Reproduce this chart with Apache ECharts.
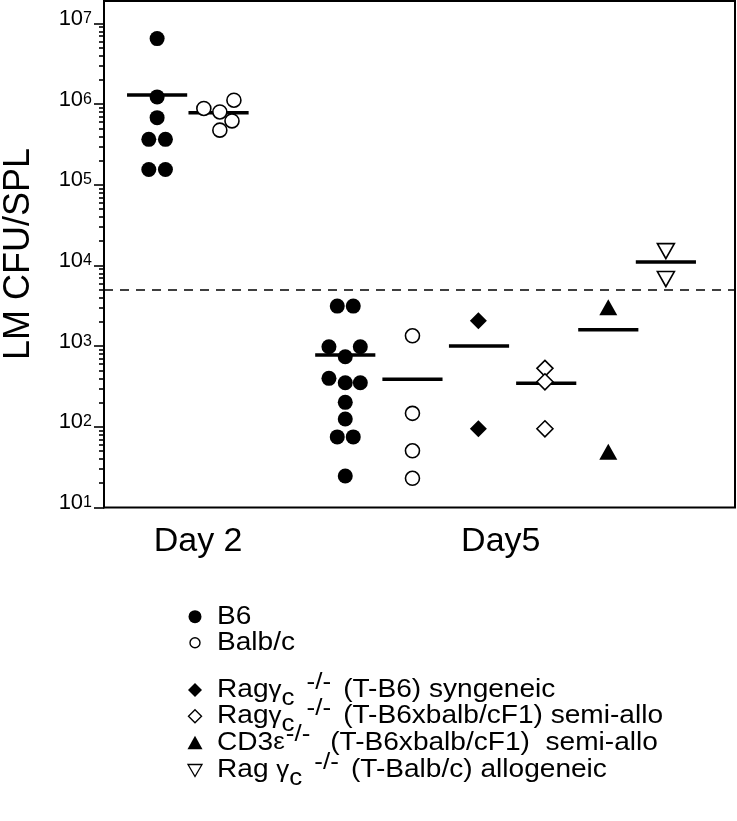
<!DOCTYPE html>
<html><head><meta charset="utf-8">
<script src="https://cdn.jsdelivr.net/npm/echarts@6/dist/echarts.min.js"></script>
<style>html,body{margin:0;padding:0;background:#fff}#c{width:737px;height:821px}</style>
</head><body><div id="c"></div>
<script>
const FONT = '"Liberation Sans", Arial, Helvetica, sans-serif';

// ---- axis ticks / labels ----
const yMajorTicks = [10, 100, 1000, 10000, 100000, 1000000, 10000000];
const yMajorExponents = ['1', '2', '3', '4', '5', '6', '7'];
const yMinorTicks = [];
for (let e = 1; e <= 6; e++) for (let m = 2; m <= 9; m++) yMinorTicks.push(m * Math.pow(10, e));
const dayLabels = ['Day 2', 'Day5'];
const dayLabelPos = [1.47, 6.20];

// ---- series names / legend text ----
const seriesNames = ['B6', 'Balb/c', 'Ragγc-/- (T-B6) syngeneic', 'Ragγc-/- (T-B6xbalb/cF1) semi-allo',
  'CD3ε-/- (T-B6xbalb/cF1) semi-allo', 'Rag γc-/- (T-Balb/c) allogeneic'];
const legendRich = ['{n|B6}', '{n|Balb/c}',
  '{n|Rag}{g|γ}{sub|c}{n| }{sup|-/-}{n| (T-B6) syngeneic}',
  '{n|Rag}{g|γ}{sub|c}{n| }{sup|-/-}{n| (T-B6xbalb/cF1) semi-allo}',
  '{n|CD3}{g|ε}{sup2|-/-}{n|  (T-B6xbalb/cF1)  semi-allo}',
  '{n|Rag }{g|γ}{sub|c}{n| }{sup|-/-}{n| (T-Balb/c) allogeneic}'];

// ---- data (LM CFU per spleen) ----
const day2B6 = [6.5e6, 1.23e6, 6.8e5, 3.66e5, 3.66e5, 1.55e5, 1.55e5];
const day2Balb = [8.85e5, 8.0e5, 1.12e6, 6.2e5, 4.76e5];
const day5B6 = [3140, 3140, 984, 984, 740, 399, 352, 352, 201, 125, 75, 75, 24.6];
const day5Balb = [1345, 147, 50.5, 23];
const ragSyn = [2065, 94.6];
const ragSemi = [531, 362, 94.6];
const cd3Semi = [3027, 49];
const ragAllo = [15070, 6780];
const groupMeans = [1.30e6, 7.8e5, 776, 388, 1003, 346, 1596, 11020];
const threshold = 5000;

// ---- layout: group x positions and point offsets (dot-plot jitter) ----
const groupPos = [0.83, 1.81, 3.77, 4.82, 5.85, 6.89, 7.88, 8.78];
const meanPos = [0.83, 1.79, 3.77, 4.82, 5.86, 6.91, 7.88, 8.78];
const meanHalfWidth = 0.47;
const day2B6Off = [0, 0, 0, -0.13, 0.13, -0.13, 0.13];
const day2BalbOff = [-0.25, 0, 0.22, 0.19, 0];
const day5B6Off = [-0.125, 0.125, -0.255, 0.235, 0, -0.255, 0, 0.235, 0, 0, -0.125, 0.125, 0];
const zeroOff = [0, 0, 0, 0];

// legend layout
const legendRowY = [616.7, 642.7, 690, 716.3, 742.7, 770];
const legendSymX = 195;
const legendTextX = 217;

function pts(vals, gi, off) { return vals.map((v, i) => [groupPos[gi] + (off[i] || 0), v]); }

const filled = { color: '#000', borderColor: '#000', borderWidth: 0, opacity: 1 };
const open = { color: '#fff', borderColor: '#000', borderWidth: 1.6, opacity: 1 };

const chart = echarts.init(document.getElementById('c'), null, { renderer: 'canvas' });

const baseY = { type: 'log', logBase: 10, min: 10, max: 1.9e7, gridIndex: 0, position: 'left', splitLine: { show: false } };

// legend graphics
const legendSymbols = [
  (x, y) => ({ type: 'circle', shape: { cx: x, cy: y, r: 6.5 }, style: { fill: '#000' } }),
  (x, y) => ({ type: 'circle', shape: { cx: x, cy: y, r: 5 }, style: { fill: '#fff', stroke: '#000', lineWidth: 1.4 } }),
  (x, y) => ({ type: 'polygon', shape: { points: [[x, y - 7], [x + 7, y], [x, y + 7], [x - 7, y]] }, style: { fill: '#000' } }),
  (x, y) => ({ type: 'polygon', shape: { points: [[x, y - 6.5], [x + 6.5, y], [x, y + 6.5], [x - 6.5, y]] }, style: { fill: '#fff', stroke: '#000', lineWidth: 1.4 } }),
  (x, y) => ({ type: 'polygon', shape: { points: [[x, y - 7], [x + 7.5, y + 6.5], [x - 7.5, y + 6.5]] }, style: { fill: '#000' } }),
  (x, y) => ({ type: 'polygon', shape: { points: [[x - 7, y - 5.5], [x + 7, y - 5.5], [x, y + 6.5]] }, style: { fill: '#fff', stroke: '#000', lineWidth: 1.3 } })
];
const legendGraphics = [];
seriesNames.forEach((nm, i) => {
  legendGraphics.push(legendSymbols[i](legendSymX, legendRowY[i]));
  legendGraphics.push({
    type: 'text', x: legendTextX, y: legendRowY[i], scaleX: 1.08,
    style: {
      text: legendRich[i], align: 'left', verticalAlign: 'middle', fill: '#000',
      fontFamily: FONT, fontSize: 26,
      rich: {
        n: { fontFamily: FONT, fontSize: 26, lineHeight: 26, verticalAlign: 'middle', fill: '#000' },
        g: { fontFamily: FONT, fontSize: 24, lineHeight: 26, verticalAlign: 'middle', fill: '#000' },
        sub: { fontFamily: FONT, fontSize: 24, lineHeight: 10, padding: [16, 0, 0, 0], verticalAlign: 'middle', fill: '#000' },
        sup: { fontFamily: FONT, fontSize: 24, lineHeight: 10, padding: [0, 4, 16, 4], verticalAlign: 'middle', fill: '#000' },
        sup2: { fontFamily: FONT, fontSize: 24, lineHeight: 10, padding: [0, 4, 16, 1], verticalAlign: 'middle', fill: '#000' }
      }
    }
  });
});

chart.setOption({
  animation: false,
  backgroundColor: '#fff',
  textStyle: { fontFamily: FONT, color: '#000' },
  grid: { left: 104, top: 1, width: 631, height: 506.5, show: true, borderColor: '#000', borderWidth: 2, backgroundColor: 'transparent', outerBoundsMode: 'none' },
  xAxis: {
    type: 'value', min: 0, max: 9.86,
    axisLine: { show: false }, axisTick: { show: false }, splitLine: { show: false },
    axisLabel: {
      customValues: dayLabelPos, margin: 17,
      fontFamily: FONT, fontSize: 34, color: '#000',
      formatter: (v) => { let k = 0; dayLabelPos.forEach((p, i) => { if (Math.abs(p - v) < Math.abs(dayLabelPos[k] - v)) k = i; }); return dayLabels[k]; }
    }
  },
  yAxis: [
    Object.assign({}, baseY, {
      axisLine: { show: true, lineStyle: { color: '#000', width: 2 } },
      axisTick: { show: true, customValues: yMajorTicks, length: 10, lineStyle: { color: '#000', width: 1.6 } },
      axisLabel: {
        customValues: yMajorTicks, margin: 12, color: '#000', fontFamily: FONT, fontSize: 22,
        formatter: (v) => '{b|10}{s|' + yMajorExponents[Math.round(Math.log10(v)) - 1] + '}',
        rich: {
          b: { fontFamily: FONT, fontSize: 22, lineHeight: 22, padding: [0, 0, 9, 0], verticalAlign: 'middle', color: '#000' },
          s: { fontFamily: FONT, fontSize: 16, lineHeight: 21, padding: [0, 0, 10, 0], verticalAlign: 'middle', color: '#000' }
        }
      }
    }),
    Object.assign({}, baseY, {
      axisLine: { show: false },
      axisTick: { show: true, customValues: yMinorTicks, length: 5, lineStyle: { color: '#000', width: 1.6 } },
      axisLabel: { show: false }
    })
  ],
  graphic: [{
    type: 'text', x: 19, y: 254, rotation: Math.PI / 2,
    style: { text: 'LM CFU/SPL', fontFamily: FONT, fontSize: 36, fill: '#000', align: 'center', verticalAlign: 'middle' }
  }].concat(legendGraphics),
  series: [
    {
      type: 'custom', name: 'means', z: 1, silent: true,
      data: groupMeans.map((m, i) => [meanPos[i], m]),
      renderItem: (params, api) => {
        const x = api.value(0), y = api.value(1);
        const a = api.coord([x - meanHalfWidth, y]), b = api.coord([x + meanHalfWidth, y]);
        return { type: 'line', shape: { x1: a[0], y1: a[1], x2: b[0], y2: b[1] }, style: { stroke: '#000', lineWidth: 3.5 } };
      }
    },
    {
      type: 'scatter', name: seriesNames[0], z: 3, symbol: 'circle', symbolSize: 15, itemStyle: filled,
      data: pts(day2B6, 0, day2B6Off).concat(pts(day5B6, 2, day5B6Off)),
      markLine: { silent: true, symbol: 'none', label: { show: false }, z: 2,
        lineStyle: { color: '#000', width: 1.5, type: [9, 7], opacity: 1 }, data: [{ yAxis: threshold }] }
    },
    { type: 'scatter', name: seriesNames[1], z: 3, symbol: 'circle', symbolSize: 14, itemStyle: open,
      data: pts(day2Balb, 1, day2BalbOff).concat(pts(day5Balb, 3, zeroOff)) },
    { type: 'scatter', name: seriesNames[2], z: 3, symbol: 'diamond', symbolSize: [17, 17], itemStyle: filled,
      data: pts(ragSyn, 4, zeroOff) },
    { type: 'scatter', name: seriesNames[3], z: 3, symbol: 'diamond', symbolSize: [16, 16], itemStyle: open,
      data: pts(ragSemi, 5, zeroOff) },
    { type: 'scatter', name: seriesNames[4], z: 3, symbol: 'triangle', symbolSize: [18, 16], itemStyle: filled,
      data: pts(cd3Semi, 6, zeroOff) },
    { type: 'scatter', name: seriesNames[5], z: 3, symbol: 'triangle', symbolRotate: 180, symbolSize: [17, 15], itemStyle: open,
      data: pts(ragAllo, 7, zeroOff) }
  ]
});
</script></body></html>
